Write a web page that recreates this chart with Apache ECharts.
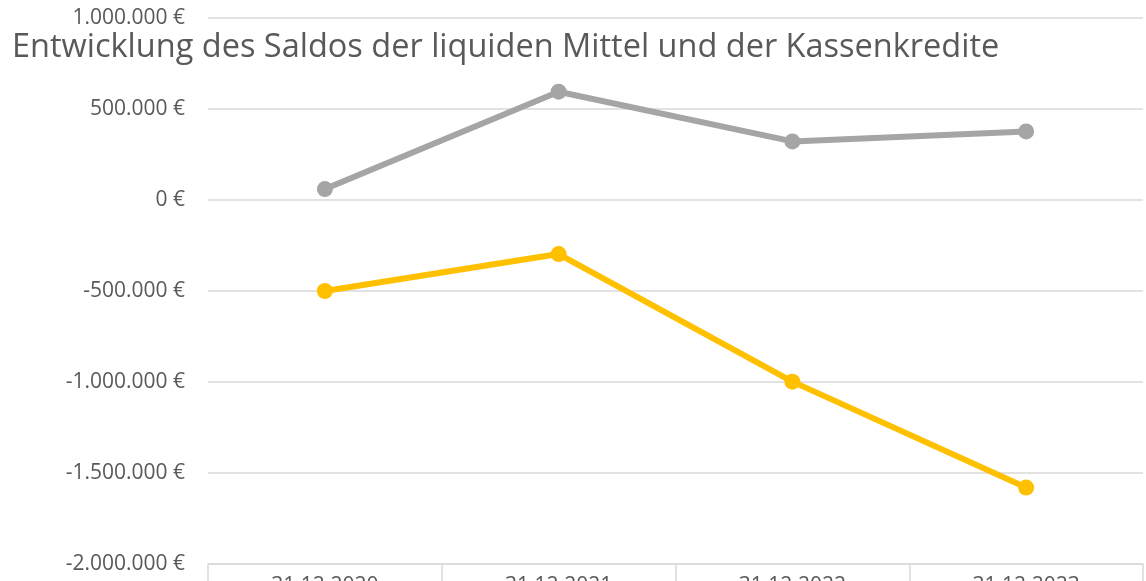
<!DOCTYPE html>
<html>
<head>
<meta charset="utf-8">
<title>Entwicklung des Saldos</title>
<script src="https://cdn.jsdelivr.net/npm/echarts@6/dist/echarts.min.js"></script>
<style>
  html, body { margin: 0; padding: 0; background: #fff; }
  #chart { width: 1146px; height: 581px; }
</style>
</head>
<body>
<div id="chart"></div>
<script>
// Daten
const categories = ['31.12.2020', '31.12.2021', '31.12.2022', '31.12.2023'];
const liquideMittel = [60000, 595000, 322000, 377000];
const kassenkredite = [-500000, -297000, -998000, -1580000];
const yTicks = { min: -2000000, max: 1000000, interval: 500000 };

// deutsches Zahlenformat: 1.000.000 €
function euro(v) {
  const neg = v < 0;
  const s = String(Math.abs(v)).replace(/\B(?=(\d{3})+(?!\d))/g, '.');
  return (neg ? '-' : '') + s + ' €';
}

const font = '"Open Sans", sans-serif';
const chart = echarts.init(document.getElementById('chart'));

chart.setOption({
  animation: false,
  title: {
    text: 'Entwicklung des Saldos der liquiden Mittel und der Kassenkredite',
    left: 7,
    top: 26,
    textStyle: { fontFamily: font, fontSize: 32.5, fontWeight: 'normal', color: '#595959' }
  },
  grid: { left: 208, right: 3, top: 18, bottom: 17, outerBoundsMode: 'none' },
  xAxis: {
    type: 'category',
    data: categories,
    boundaryGap: true,
    axisLine: { onZero: false, lineStyle: { color: '#d9d9d9', width: 1.5 } },
    axisTick: { show: true, length: 30, lineStyle: { color: '#d9d9d9', width: 1.5 } },
    axisLabel: { margin: 12, fontFamily: font, fontSize: 21, color: '#595959' }
  },
  yAxis: {
    type: 'value',
    min: yTicks.min,
    max: yTicks.max,
    interval: yTicks.interval,
    axisLine: { show: false },
    axisTick: { show: false },
    axisLabel: { margin: 23, fontFamily: font, fontSize: 21, color: '#595959', formatter: euro },
    splitLine: { lineStyle: { color: '#d9d9d9', width: 1.5 } }
  },
  series: [
    {
      name: 'Saldo liquide Mittel',
      type: 'line',
      data: liquideMittel,
      symbol: 'circle',
      symbolSize: 16,
      lineStyle: { color: '#a5a5a5', width: 6 },
      itemStyle: { color: '#a5a5a5' }
    },
    {
      name: 'Kassenkredite',
      type: 'line',
      data: kassenkredite,
      symbol: 'circle',
      symbolSize: 16,
      lineStyle: { color: '#ffc000', width: 6 },
      itemStyle: { color: '#ffc000' }
    }
  ]
});
</script>
</body>
</html>
